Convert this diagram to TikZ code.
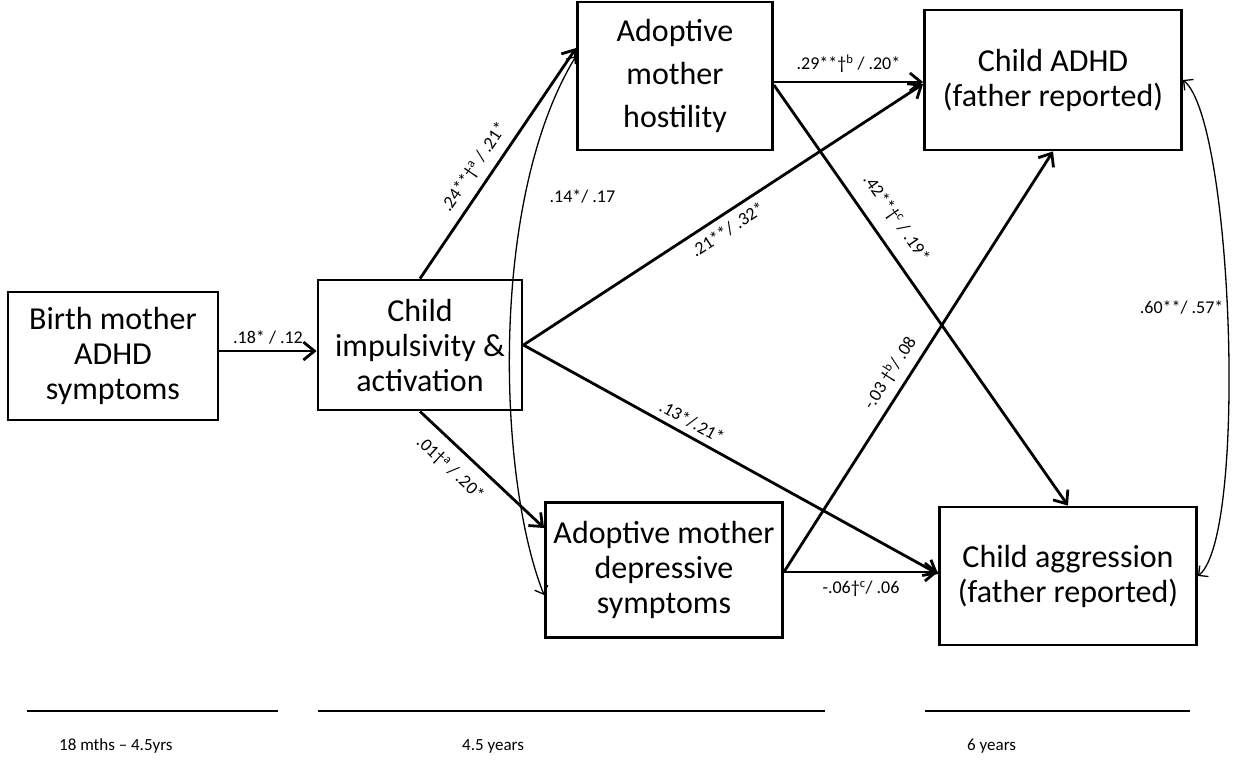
\documentclass[tikz,border=0pt]{standalone}
\usepackage{fontspec}
\setmainfont{Carlito}
\usetikzlibrary{arrows.meta}
\begin{document}
\begin{tikzpicture}[x=1pt,y=-1pt,
   box/.style={draw,line width=2.8pt,align=center,inner sep=0pt,font=\fontsize{32}{35}\selectfont},
   arr/.style={line width=2.8pt,-{Straight Barb[length=11pt,width=18pt]}},
   corr/.style={line width=1.3pt,{Straight Barb[length=7pt,width=14pt]}-{Straight Barb[length=7pt,width=14pt]}},
   coef/.style={font=\fontsize{18}{20}\selectfont,inner sep=2pt},
   tl/.style={line width=2.8pt}]
   \useasboundingbox (0,0) rectangle (1234,780);
   \node[box,minimum width=210pt,minimum height=128pt] (birth) at (113,356) {Birth mother\\ADHD\\symptoms};
   \node[box,minimum width=204pt,minimum height=130pt] (impuls) at (420,345) {Child\\impulsivity \&\\activation};
   \node[box,minimum width=195pt,minimum height=148pt,text depth=6pt] (hostil) at (675,76) {Adoptive\\[8pt]mother\\[8pt]hostility};
   \node[box,minimum width=237pt,minimum height=135pt] (depress) at (664,570) {Adoptive mother\\depressive\\symptoms};
   \node[box,minimum width=257pt,minimum height=140pt] (adhd) at (1053,80) {Child ADHD\\(father reported)};
   \node[box,minimum width=257pt,minimum height=138pt] (aggr) at (1068,576) {Child aggression\\(father reported)};
   \draw[arr] ([yshift=5pt]birth.east) -- ([yshift=-6pt]impuls.west)
      node[coef,midway,above=3pt] {.18* / .12};
   \draw[arr] (impuls.north) -- ([yshift=28pt]hostil.west)
      node[coef,pos=.44,sloped,above=6pt] {.24**\textdagger\textsuperscript{a} / .21*};
   \draw[arr] (impuls.south) -- ([yshift=42pt]depress.west)
      node[coef,pos=.36,sloped,below=10pt] {.01\textdagger\textsuperscript{a} / .20*};
   \draw[arr] (impuls.east) -- ([yshift=-4pt]adhd.west)
      node[coef,pos=.49,sloped,below=5pt] {.21**/ .32*};
   \draw[arr] (impuls.east) -- ([yshift=2pt]aggr.west)
      node[coef,pos=.39,sloped,above=4pt] {.13*/.21*};
   \draw[arr] ([yshift=-6pt]hostil.east) -- ([yshift=-2pt]adhd.west)
      node[coef,midway,above=6pt] {.29**\textdagger\textsuperscript{b} / .20*};
   \draw[arr] ([yshift=-9pt]hostil.east) -- (aggr.north)
      node[coef,pos=.35,sloped,above=12pt] {.42**\textdagger\textsuperscript{c} / .19*};
   \draw[arr] ([yshift=-2pt]depress.east) -- ([yshift=4pt]aggr.west)
      node[coef,midway,below=6pt] {-.06\textdagger\textsuperscript{c}/ .06};
   \draw[arr] ([yshift=-2pt]depress.east) -- (adhd.south)
      node[coef,pos=.45,sloped,above=6pt] {-.03 \textdagger\textsuperscript{b}/ .08};
   % correlations
   \draw[corr] ([yshift=20pt]hostil.west) .. controls +(-88,144) and +(-46,-115) .. ([yshift=-25pt]depress.west)
      node[coef,pos=.27,right=22pt] {.14*/ .17};
   \draw[corr] (adhd.east) .. controls +(50,40) and +(50,-40) .. (aggr.east)
      node[coef,pos=.47,left=1pt] {.60**/ .57*};
   % time line
   \foreach \a/\b/\c/\lab in
     { 27/278/57/{18 mths – 4.5yrs},
      318/825/460/{4.5 years},
      925/1190/965/{6 years}
     }
     {
      \draw[tl] (\a,711) -- (\b,711);
      \node[coef,anchor=west,font=\fontsize{17}{19}\selectfont] (t\a) at (\c,746) {\lab};
     }
\end{tikzpicture}
\end{document}
